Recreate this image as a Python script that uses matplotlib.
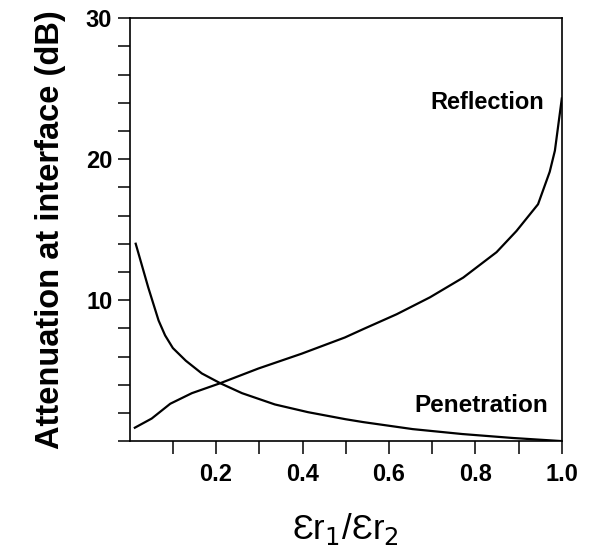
import matplotlib
matplotlib.use("Agg")
import matplotlib.pyplot as plt
from matplotlib.ticker import MultipleLocator, FixedLocator

plt.rcParams['font.family'] = ['Liberation Sans', 'DejaVu Sans']

# values
pen_x = [0.014, 0.043, 0.067, 0.082, 0.10, 0.13, 0.167, 0.21, 0.26, 0.336,
         0.413, 0.50, 0.54, 0.655, 0.77, 0.887, 1.0]
pen_y = [14.0, 10.9, 8.55, 7.5, 6.6, 5.7, 4.8, 4.1, 3.4, 2.6,
         2.05, 1.55, 1.35, 0.85, 0.5, 0.22, 0.0]

ref_x = [0.012, 0.051, 0.094, 0.144, 0.209, 0.298, 0.398, 0.498, 0.541,
         0.618, 0.695, 0.772, 0.849, 0.895, 0.945, 0.972, 0.984, 1.0]
ref_y = [0.95, 1.6, 2.65, 3.4, 4.1, 5.15, 6.2, 7.35, 7.95,
         9.0, 10.2, 11.6, 13.4, 14.9, 16.8, 19.1, 20.6, 24.3]

x_ticklabels = ["0.2", "0.4", "0.6", "0.8", "1.0"]
y_ticklabels = ["10", "20", "30"]

fig = plt.figure(figsize=(5.92, 5.5), dpi=100)
ax = fig.add_axes([0.219, 0.198, 0.730, 0.769])

ax.plot(ref_x, ref_y, color="black", lw=1.6)
ax.plot(pen_x, pen_y, color="black", lw=1.6)

ax.set_xlim(0, 1.0)
ax.set_ylim(0, 30)

ax.xaxis.set_major_locator(FixedLocator([0.2, 0.4, 0.6, 0.8, 1.0]))
ax.xaxis.set_minor_locator(FixedLocator([0.1, 0.3, 0.5, 0.7, 0.9]))
ax.set_xticklabels(x_ticklabels)
ax.yaxis.set_major_locator(FixedLocator([10, 20, 30]))
ax.yaxis.set_minor_locator(MultipleLocator(2))
ax.set_yticklabels(y_ticklabels)

ax.tick_params(which="both", direction="out", width=1.1, color="black")
ax.tick_params(axis="x", which="both", length=9.5, pad=6)
ax.tick_params(axis="y", which="both", length=8.5, pad=4)
for lab in ax.get_xticklabels() + ax.get_yticklabels():
    lab.set_fontsize(17)
    lab.set_fontweight("bold")

for s in ax.spines.values():
    s.set_linewidth(1.2)

ax.set_ylabel("Attenuation at interface (dB)", fontsize=23.5, fontweight="bold", labelpad=14)
ax.set_xlabel("Ɛr$_1$/Ɛr$_2$", fontsize=25, labelpad=18)

ax.text(0.96, 24.0, "Reflection", ha="right", va="center", fontsize=17, fontweight="bold")
ax.text(0.968, 2.5, "Penetration", ha="right", va="center", fontsize=17.5, fontweight="bold")

fig.savefig("out.png", dpi=100)
